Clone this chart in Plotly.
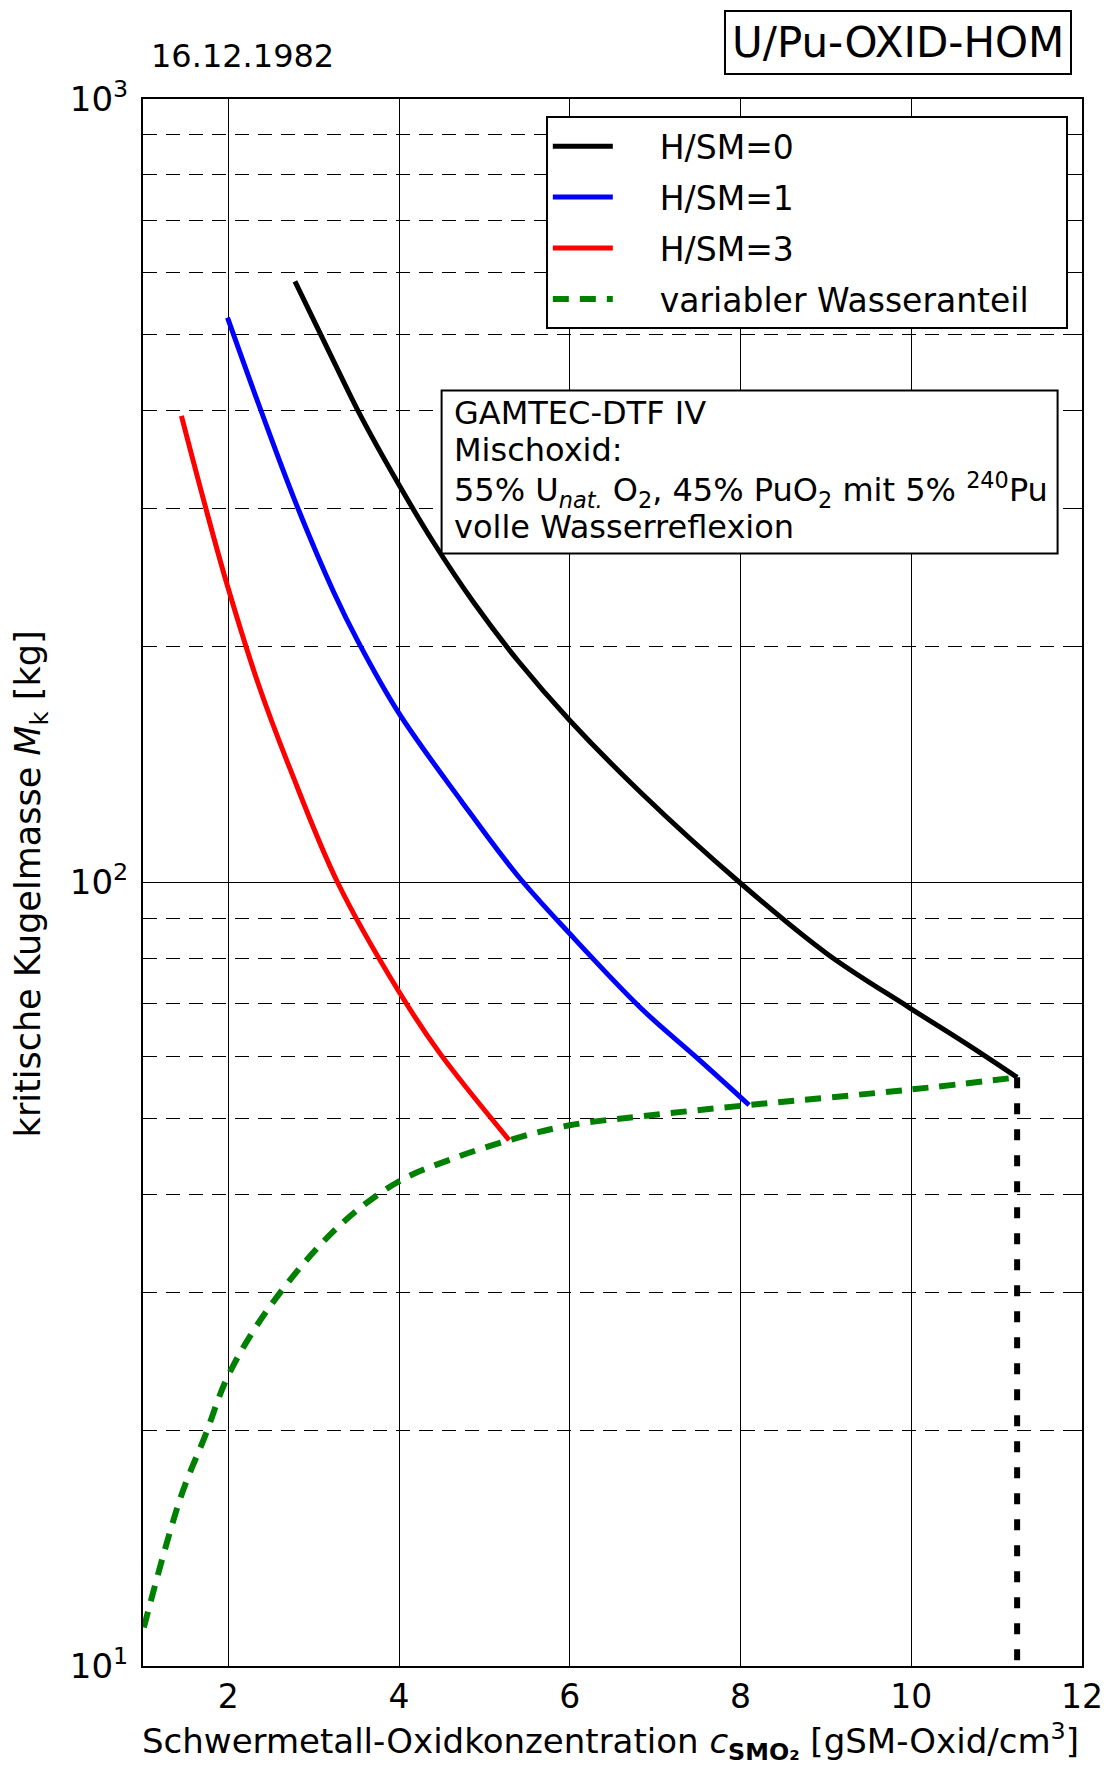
import plotly.graph_objects as go

# H/SM = 0
x_h0 = [2.78, 3.22, 3.55, 3.99, 4.40, 4.87, 5.39, 6.0, 6.84, 7.99, 9.02, 9.98, 10.67, 11.24]
y_h0 = [585, 466, 394, 323, 272, 228, 192, 161, 130, 100, 81, 69.2, 62, 56.4]

# H/SM = 1
x_h1 = [1.99, 2.39, 2.78, 3.24, 3.52, 3.99, 4.73, 5.39, 6.0, 6.84, 7.5, 8.1]
y_h1 = [526, 398, 307, 234, 203, 165, 127, 102, 86, 69, 59.6, 52]

# H/SM = 3
x_h3 = [1.45, 1.73, 1.99, 2.36, 2.73, 3.28, 3.99, 4.47, 5.29]
y_h3 = [394, 302, 239, 178, 139, 100, 72.8, 60.7, 46.9]

# variabler Wasseranteil
x_var = [1.01, 1.44, 1.73, 2.0, 2.49, 3.28, 3.99, 4.6, 5.29, 6.0, 6.84, 8.1, 9.98, 11.24]
y_var = [11.2, 16.4, 19.7, 23.5, 28.8, 36.3, 41.5, 44.3, 46.9, 49, 50.3, 52, 54.4, 56.4]

# vertical drop at the end of H/SM=0
x_drop = [11.24, 11.24]
y_drop = [56.4, 10]

x_ticks = [2, 4, 6, 8, 10, 12]
y_ticks = [10, 100, 1000]
y_ticktext = ['10<sup>1</sup>', '10<sup>2</sup>', '10<sup>3</sup>']
y_minor = [20, 30, 40, 50, 60, 70, 80, 90, 200, 300, 400, 500, 600, 700, 800, 900]

info_lines = [
    'GAMTEC-DTF IV',
    'Mischoxid:',
    '55% U<sub><i>nat.</i></sub> O<sub>2</sub>, 45% PuO<sub>2</sub> mit 5% <sup>240</sup>Pu',
    'volle Wasserreflexion',
]

FONT = 'DejaVu Sans'
PAD = '\u00a0\u00a0\u00a0\u00a0'

fig = go.Figure()

fig.add_trace(go.Scatter(x=x_h0, y=y_h0, mode='lines', name=PAD + 'H/SM=0',
                         line=dict(color='black', width=5, shape='spline'),
                         legendgroup='a'))
fig.add_trace(go.Scatter(x=x_h1, y=y_h1, mode='lines', name=PAD + 'H/SM=1',
                         line=dict(color='blue', width=5, shape='spline'),
                         legendgroup='b'))
fig.add_trace(go.Scatter(x=x_h3, y=y_h3, mode='lines', name=PAD + 'H/SM=3',
                         line=dict(color='red', width=5, shape='spline'),
                         legendgroup='c'))
fig.add_trace(go.Scatter(x=x_var, y=y_var, mode='lines',
                         name=PAD + 'variabler Wasseranteil' + '\u00a0\u00a0\u00a0',
                         line=dict(color='green', width=6, shape='spline', dash='16px,11px'),
                         legendgroup='d'))
fig.add_trace(go.Scatter(x=x_drop, y=y_drop, mode='lines', showlegend=False,
                         line=dict(color='black', width=6, dash='11px,15px')))

# the page body adds an 8px margin, so the figure is 16px smaller and margins shifted
fig.update_layout(
    width=1101, height=1757,
    margin=dict(l=135, r=27, t=91, b=99),
    plot_bgcolor='white', paper_bgcolor='white',
    font=dict(family=FONT, size=33, color='black'),
    legend=dict(x=0.429, y=0.989, xanchor='left', yanchor='top',
                bgcolor='white', bordercolor='black', borderwidth=2,
                font=dict(size=33), tracegroupgap=5, itemwidth=60),
)

fig.update_xaxes(
    range=[1, 12], tickvals=x_ticks, ticks='inside', ticklen=8, tickcolor='black',
    showline=True, linecolor='black', linewidth=2, mirror='ticks',
    showgrid=True, gridcolor='black', gridwidth=1, zeroline=False,
    tickfont=dict(size=33), automargin=False,
)

fig.update_yaxes(
    type='log', range=[1, 3], tickvals=y_ticks, ticktext=y_ticktext,
    ticks='inside', ticklen=8, tickcolor='black',
    showline=True, linecolor='black', linewidth=2, mirror='ticks',
    showgrid=True, gridcolor='black', gridwidth=1, zeroline=False,
    tickfont=dict(size=34), automargin=False, ticklabelstandoff=6,
    minor=dict(tickvals=y_minor, ticks='inside', ticklen=5, tickcolor='black',
               showgrid=True, gridcolor='black', gridwidth=1, griddash='14px,9px'),
)

# axis titles
fig.add_annotation(text='Schwermetall-Oxidkonzentration <i>c</i><sub><b>SMO₂</b></sub> [gSM-Oxid/cm<sup>3</sup>]',
                   xref='paper', yref='paper', x=0.498, y=-0.0485,
                   xanchor='center', yanchor='middle', showarrow=False,
                   font=dict(size=34))
fig.add_annotation(text='kritische Kugelmasse <i>M</i><sub>k</sub> [kg]',
                   xref='paper', yref='paper', x=-0.120, y=0.499, textangle=-90,
                   xanchor='center', yanchor='middle', showarrow=False,
                   font=dict(size=35))

# date
fig.add_annotation(text='16.12.1982', xref='paper', yref='paper', x=0.006, y=1.0275,
                   xanchor='left', yanchor='middle', showarrow=False,
                   font=dict(size=32))

# title box
fig.add_annotation(text='U/Pu-OXID-HOM', xref='paper', yref='paper', x=0.989, y=1.057,
                   xanchor='right', yanchor='top', showarrow=False,
                   font=dict(size=42), bordercolor='black', borderwidth=2,
                   borderpad=6, bgcolor='white')

# info box
fig.add_shape(type='rect', xref='paper', yref='paper', x0=0.318, x1=0.974, y0=0.710, y1=0.814,
              line=dict(color='black', width=2), fillcolor='white', layer='above')
for txt, yy in zip(info_lines, [0.7996, 0.776, 0.7505, 0.727]):
    fig.add_annotation(text=txt, xref='paper', yref='paper', x=0.329, y=yy,
                       xanchor='left', yanchor='middle', align='left', showarrow=False,
                       font=dict(size=32))

fig.write_html('out.html')
